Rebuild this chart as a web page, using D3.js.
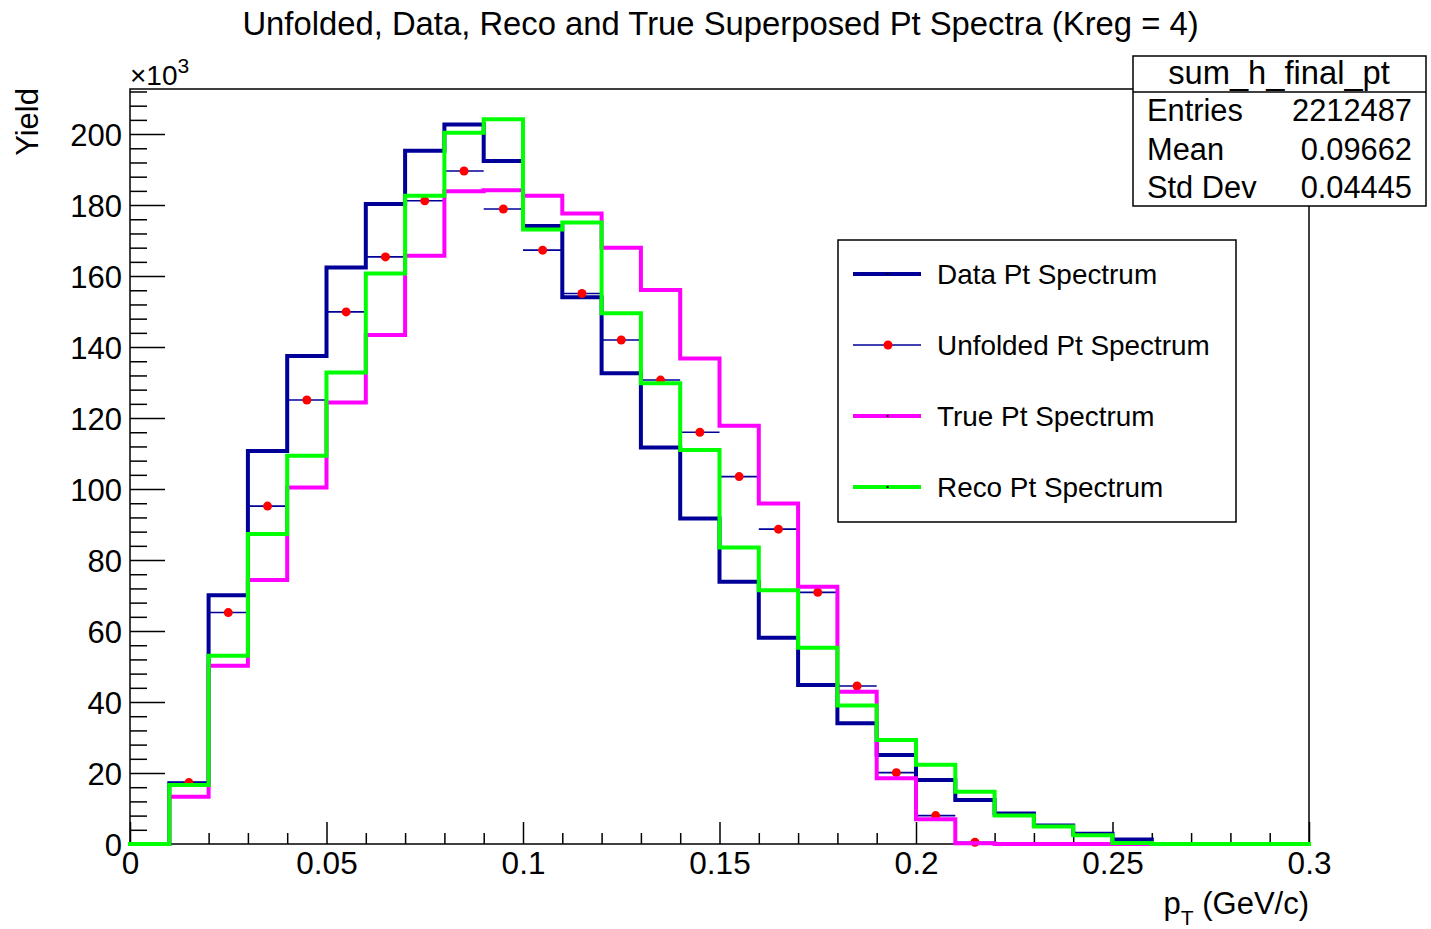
<!DOCTYPE html>
<html>
<head>
<meta charset="utf-8">
<script src="https://cdn.jsdelivr.net/npm/d3@7"></script>
<style>
  html, body { margin: 0; padding: 0; background: #fff; }
  svg { display: block; }
  text { font-family: "Liberation Sans", Arial, Helvetica, sans-serif; fill: #000; }
</style>
</head>
<body>
<svg id="chart" width="1431" height="929"></svg>
<script>
// ---------------- data (yields in units of 10^3) ----------------
const binEdges = [0, 0.01, 0.02, 0.03, 0.04, 0.05, 0.06, 0.07, 0.08, 0.09, 0.10,
                  0.11, 0.12, 0.13, 0.14, 0.15, 0.16, 0.17, 0.18, 0.19, 0.20,
                  0.21, 0.22, 0.23, 0.24, 0.25, 0.26, 0.27, 0.28, 0.29, 0.30];
const dataPt = [0, 17.1, 70.1, 110.7, 137.5, 162.4, 180.3, 195.3, 202.7, 192.4,
                174.1, 154.0, 132.6, 111.7, 91.7, 73.9, 58.1, 44.8, 34.0, 25.1,
                18.0, 12.4, 8.6, 5.2, 2.9, 1.3, 0, 0, 0, 0];
const unfoldedPt = [null, 17.3, 65.2, 95.2, 125.1, 149.9, 165.4, 181.2, 189.6, 178.9,
                    167.3, 155.1, 142.0, 130.7, 116.0, 103.5, 88.7, 70.9, 44.5, 20.1,
                    8.0, 0.5, null, null, null, null, null, null, null, null];
const truePt = [0, 13.3, 50.2, 74.4, 100.4, 124.4, 143.4, 165.7, 183.9, 184.2,
                182.6, 177.6, 168.0, 156.1, 136.8, 117.8, 95.9, 72.5, 42.9, 18.5,
                7.0, 0.2, 0, 0, 0, 0, 0, 0, 0, 0];
const recoPt = [0, 16.6, 53.0, 87.3, 109.4, 132.8, 160.7, 182.6, 200.4, 204.2,
                173.1, 175.1, 149.5, 129.8, 111.0, 83.5, 71.5, 55.3, 39.0, 29.3,
                22.3, 14.7, 8.0, 4.9, 2.5, 0.3, 0, 0, 0, 0];

const xMajorTicks = [0, 0.05, 0.1, 0.15, 0.2, 0.25, 0.3];
const xTickLabels = ["0", "0.05", "0.1", "0.15", "0.2", "0.25", "0.3"];
const yMajorTicks = [0, 20, 40, 60, 80, 100, 120, 140, 160, 180, 200];
const yTickLabels = ["0", "20", "40", "60", "80", "100", "120", "140", "160", "180", "200"];

const legendLabels = ["Data Pt Spectrum", "Unfolded Pt Spectrum", "True Pt Spectrum", "Reco Pt Spectrum"];
const statsNames = ["Entries", "Mean", "Std Dev"];
const statsValues = ["2212487", "0.09662", "0.04445"];

// ---------------- layout ----------------
const W = 1431, H = 929;
const frame = { left: 130, right: 1309, top: 89, bottom: 844 };
const colors = { data: "#000099", unf: "#000099", marker: "#ff0000", tru: "#ff00ff", reco: "#00ff00" };

const svg = d3.select("#chart");
svg.append("rect").attr("width", W).attr("height", H).attr("fill", "#fff");

const x = d3.scaleLinear().domain([0, 0.3]).range([frame.left, frame.right]);
const y = d3.scaleLinear().domain([0, 212.7]).range([frame.bottom, frame.top]);

// frame
svg.append("rect")
  .attr("x", frame.left).attr("y", frame.top)
  .attr("width", frame.right - frame.left).attr("height", frame.bottom - frame.top)
  .attr("fill", "none").attr("stroke", "#000").attr("stroke-width", 1.5);

// minor ticks
const xMinor = binEdges.filter(v => !xMajorTicks.some(t => Math.abs(t - v) < 1e-9));
const yMinorAll = d3.range(0, 213, 4).filter(v => v % 20 !== 0);

const xAxisMinor = d3.axisBottom(x).tickValues(xMinor).tickSize(-11).tickFormat("");
const xAxisMajor = d3.axisBottom(x).tickValues(xMajorTicks).tickSize(-22).tickPadding(8)
  .tickFormat((d, i) => xTickLabels[i]);
const yAxisMinor = d3.axisLeft(y).tickValues(yMinorAll).tickSize(-17).tickFormat("");
const yAxisMajor = d3.axisLeft(y).tickValues(yMajorTicks).tickSize(-35).tickPadding(8)
  .tickFormat((d, i) => yTickLabels[i]);

function styleAxis(g, fs) {
  g.select(".domain").remove();
  g.selectAll(".tick line").attr("stroke", "#000").attr("stroke-width", 1.5);
  g.selectAll(".tick text").attr("font-size", fs).attr("fill", "#000")
    .attr("font-family", '"Liberation Sans", Arial, sans-serif');
}
svg.append("g").attr("transform", `translate(0,${frame.bottom})`).call(xAxisMinor).call(styleAxis, 31);
const gx = svg.append("g").attr("transform", `translate(0,${frame.bottom})`).call(xAxisMajor).call(styleAxis, 31.5);
gx.selectAll(".tick text").attr("dy", null).attr("y", 30);
svg.append("g").attr("transform", `translate(${frame.left},0)`).call(yAxisMinor).call(styleAxis, 31);
const gy = svg.append("g").attr("transform", `translate(${frame.left},0)`).call(yAxisMajor).call(styleAxis, 31);
gy.selectAll(".tick text").attr("dy", null).attr("y", 11);

// ---------------- histograms ----------------
function stepPath(vals) {
  let d = `M${x(binEdges[0])},${y(vals[0])}`;
  vals.forEach((v, i) => {
    d += `L${x(binEdges[i])},${y(v)}L${x(binEdges[i + 1])},${y(v)}`;
  });
  return d;
}
const plot = svg.append("g");

plot.append("path").attr("d", stepPath(dataPt))
  .attr("fill", "none").attr("stroke", colors.data).attr("stroke-width", 4)
  .attr("stroke-linejoin", "miter").attr("stroke-linecap", "square");

// unfolded: horizontal error bars + markers
const unfBins = unfoldedPt.map((v, i) => ({ v, i })).filter(d => d.v !== null);
plot.selectAll(".errx").data(unfBins).join("line")
  .attr("x1", d => x(binEdges[d.i])).attr("x2", d => x(binEdges[d.i + 1]))
  .attr("y1", d => y(d.v)).attr("y2", d => y(d.v))
  .attr("stroke", colors.unf).attr("stroke-width", 1.6);
plot.selectAll(".mk").data(unfBins).join("circle")
  .attr("cx", d => x((binEdges[d.i] + binEdges[d.i + 1]) / 2))
  .attr("cy", d => y(d.v)).attr("r", 4.5).attr("fill", colors.marker);

plot.append("path").attr("d", stepPath(truePt))
  .attr("fill", "none").attr("stroke", colors.tru).attr("stroke-width", 4)
  .attr("stroke-linejoin", "miter").attr("stroke-linecap", "square");
plot.append("path").attr("d", stepPath(recoPt))
  .attr("fill", "none").attr("stroke", colors.reco).attr("stroke-width", 4)
  .attr("stroke-linejoin", "miter").attr("stroke-linecap", "square");

// ---------------- texts ----------------
svg.append("text").attr("x", 720.5).attr("y", 35).attr("text-anchor", "middle")
  .attr("font-size", 32.8).text("Unfolded, Data, Reco and True Superposed Pt Spectra (Kreg = 4)");

const mult = svg.append("text").attr("x", 130).attr("y", 85).attr("font-size", 28);
mult.append("tspan").text("×10");
mult.append("tspan").attr("font-size", 21).attr("dy", -12).text("3");

svg.append("text").attr("transform", "translate(38,88) rotate(-90)")
  .attr("text-anchor", "end").attr("font-size", 31).text("Yield");

const xt = svg.append("text").attr("x", 1309).attr("y", 914).attr("text-anchor", "end").attr("font-size", 31);
xt.append("tspan").text("p");
xt.append("tspan").attr("font-size", 21).attr("dy", 11).text("T");
xt.append("tspan").attr("dy", -11).text(" (GeV/c)");

// ---------------- legend ----------------
const leg = { x0: 838, y0: 240, x1: 1236, y1: 522 };
svg.append("rect").attr("x", leg.x0).attr("y", leg.y0)
  .attr("width", leg.x1 - leg.x0).attr("height", leg.y1 - leg.y0)
  .attr("fill", "#fff").attr("stroke", "#000").attr("stroke-width", 1.5);
const legRowsY = [274, 345, 416, 487];
const legStyles = [
  { c: colors.data, w: 4, dot: false },
  { c: colors.unf, w: 1.6, dot: true },
  { c: colors.tru, w: 4, dot: false },
  { c: colors.reco, w: 4, dot: false }
];
legendLabels.forEach((lab, i) => {
  const ry = legRowsY[i], s = legStyles[i];
  svg.append("line").attr("x1", 853).attr("x2", 921).attr("y1", ry).attr("y2", ry)
    .attr("stroke", s.c).attr("stroke-width", s.w);
  if (s.dot) {
    svg.append("circle").attr("cx", 888).attr("cy", ry).attr("r", 4.5).attr("fill", colors.marker);
  } else {
    svg.append("rect").attr("x", 886.5).attr("y", ry - 1).attr("width", 2).attr("height", 2).attr("fill", "#000");
  }
  svg.append("text").attr("x", 937).attr("y", ry + 10).attr("font-size", 27.9).text(lab);
});

// ---------------- stats box ----------------
const st = { x0: 1133, y0: 56, x1: 1426, y1: 206, div: 92 };
svg.append("rect").attr("x", st.x0).attr("y", st.y0)
  .attr("width", st.x1 - st.x0).attr("height", st.y1 - st.y0)
  .attr("fill", "#fff").attr("stroke", "#000").attr("stroke-width", 1.5);
svg.append("line").attr("x1", st.x0).attr("x2", st.x1).attr("y1", st.div).attr("y2", st.div)
  .attr("stroke", "#000").attr("stroke-width", 1.5);
svg.append("text").attr("x", 1279).attr("y", 84).attr("text-anchor", "middle")
  .attr("font-size", 32.7).text("sum_h_final_pt");
const statsRowY = [121, 160, 198];
statsNames.forEach((n, i) => {
  svg.append("text").attr("x", 1147).attr("y", statsRowY[i]).attr("font-size", 30.8).text(n);
  svg.append("text").attr("x", 1412).attr("y", statsRowY[i]).attr("text-anchor", "end")
    .attr("font-size", 30.8).text(statsValues[i]);
});
</script>
</body>
</html>
